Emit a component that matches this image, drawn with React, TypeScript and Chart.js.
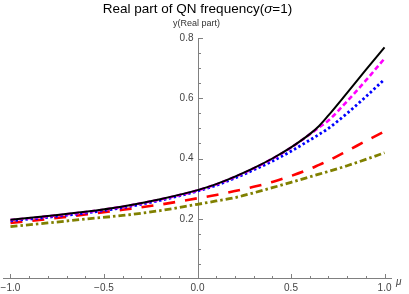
import React, { useEffect, useRef } from "react";
import { Chart, registerables } from "chart.js";
Chart.register(...registerables);

const mu = [-1.0, -0.8, -0.6, -0.4, -0.2, 0.0, 0.1, 0.2, 0.3, 0.4, 0.5, 0.6, 0.65, 0.7, 0.8, 0.9, 1.0];
const blackSolid = [0.197, 0.209, 0.223, 0.241, 0.265, 0.295, 0.315, 0.34, 0.368, 0.4, 0.437, 0.481, 0.508, 0.543, 0.618, 0.694, 0.769];
const magentaDashed = [0.196, 0.208, 0.222, 0.24, 0.264, 0.294, 0.314, 0.339, 0.367, 0.399, 0.436, 0.48, 0.503, 0.526, 0.59, 0.659, 0.732];
const blueDotted = [0.193, 0.205, 0.219, 0.237, 0.261, 0.292, 0.311, 0.335, 0.362, 0.391, 0.424, 0.461, 0.48, 0.5, 0.55, 0.605, 0.663];
const redLongDashed = [0.186, 0.199, 0.214, 0.23, 0.247, 0.268, 0.279, 0.292, 0.306, 0.322, 0.342, 0.365, 0.379, 0.393, 0.425, 0.458, 0.49];
const oliveDotDashed = [0.174, 0.186, 0.199, 0.211, 0.227, 0.248, 0.259, 0.27, 0.286, 0.303, 0.321, 0.339, 0.348, 0.357, 0.376, 0.397, 0.419];

const xTickValues = [-1, -0.5, 0, 0.5, 1];
const xTickLabels = ["\u22121.0", "\u22120.5", "0.0", "0.5", "1.0"];
const yTickValues = [0.2, 0.4, 0.6, 0.8];
const yTickLabels = ["0.2", "0.4", "0.6", "0.8"];
const xMinorTicks = [-1.0, -0.9, -0.8, -0.7, -0.6, -0.5, -0.4, -0.3, -0.2, -0.1, 0.1, 0.2, 0.3, 0.4, 0.5, 0.6, 0.7, 0.8, 0.9, 1.0];
const yMinorTicks = [0.05, 0.1, 0.15, 0.2, 0.25, 0.3, 0.35, 0.4, 0.45, 0.5, 0.55, 0.6, 0.65, 0.7, 0.75, 0.8];

const titleParts = ["Real part of QN frequency(", "\u03c3", "=1)"];
const yAxisTitle = "y(Real part)";
const xAxisTitle = "\u03bc";

const FONT = '"Liberation Sans", Arial, sans-serif';

const toPoints = (ys: number[]) => mu.map((m, i) => ({ x: m, y: ys[i] }));

const axesPlugin = {
  id: "mmaAxes",
  beforeDatasetsDraw(chart: any) {
    const { ctx, chartArea, scales } = chart;
    const x = scales.x;
    const y = scales.y;
    const x0 = Math.round(x.getPixelForValue(0)) + 0.5;
    const y0 = Math.round(y.getPixelForValue(0)) - 0.5;
    ctx.save();
    ctx.strokeStyle = "#808080";
    ctx.lineWidth = 1;
    ctx.beginPath();
    ctx.moveTo(chartArea.left, y0);
    ctx.lineTo(chartArea.right, y0);
    ctx.moveTo(x0, chartArea.top);
    ctx.lineTo(x0, chartArea.bottom);
    xMinorTicks.forEach((v) => {
      const px = Math.round(x.getPixelForValue(v)) + 0.5;
      const major = xTickValues.some((t) => Math.abs(t - v) < 1e-9);
      ctx.moveTo(px, y0);
      ctx.lineTo(px, y0 - (major ? 4.5 : 2.5));
    });
    yMinorTicks.forEach((v) => {
      const py = Math.round(y.getPixelForValue(v)) + 0.5;
      const major = yTickValues.some((t) => Math.abs(t - v) < 1e-9);
      ctx.moveTo(x0, py);
      ctx.lineTo(x0 + (major ? 4.5 : 2.5), py);
    });
    ctx.stroke();

    ctx.fillStyle = "#444";
    ctx.font = "10px " + FONT;
    ctx.textAlign = "center";
    ctx.textBaseline = "top";
    xTickValues.forEach((v, i) => {
      ctx.fillText(xTickLabels[i], x.getPixelForValue(v), y0 + 5);
    });
    ctx.textAlign = "right";
    ctx.textBaseline = "middle";
    yTickValues.forEach((v, i) => {
      ctx.fillText(yTickLabels[i], x0 - 5, y.getPixelForValue(v));
    });

    ctx.font = "italic 10px " + FONT;
    ctx.textAlign = "left";
    ctx.textBaseline = "middle";
    ctx.fillText(xAxisTitle, chartArea.right + 4, y0 + 4);

    ctx.fillStyle = "#333";
    ctx.font = "9px " + FONT;
    ctx.textAlign = "center";
    ctx.textBaseline = "alphabetic";
    ctx.fillText(yAxisTitle, x0 - 2, 26);

    // title
    ctx.fillStyle = "#000";
    const normal = "13.5px " + FONT;
    const italic = "italic 13.5px " + FONT;
    const fonts = [normal, italic, normal];
    let total = 0;
    const widths = titleParts.map((t, i) => {
      ctx.font = fonts[i];
      const w = ctx.measureText(t).width;
      total += w;
      return w;
    });
    let cx = x0 - 1 - total / 2;
    ctx.textAlign = "left";
    titleParts.forEach((t, i) => {
      ctx.font = fonts[i];
      ctx.fillText(t, cx, 13);
      cx += widths[i];
    });
    ctx.restore();
  },
};

export default function App() {
  const ref = useRef<HTMLCanvasElement | null>(null);
  useEffect(() => {
    if (!ref.current) return;
    const chart = new Chart(ref.current, {
      type: "line",
      data: {
        datasets: [
          {
            data: toPoints(blackSolid),
            borderColor: "#000000",
            borderWidth: 2,
            pointRadius: 0,
            cubicInterpolationMode: "monotone",
          },
          {
            data: toPoints(magentaDashed),
            borderColor: "#ff00ff",
            borderWidth: 2.6,
            borderDash: [5, 3],
            pointRadius: 0,
            cubicInterpolationMode: "monotone",
          },
          {
            data: toPoints(blueDotted),
            borderColor: "#0000ff",
            borderWidth: 2.8,
            borderDash: [2.5, 2.5],
            pointRadius: 0,
            cubicInterpolationMode: "monotone",
          },
          {
            data: toPoints(redLongDashed),
            borderColor: "#ff0000",
            borderWidth: 2.6,
            borderDash: [12, 10],
            pointRadius: 0,
            cubicInterpolationMode: "monotone",
          },
          {
            data: toPoints(oliveDotDashed),
            borderColor: "#808000",
            borderWidth: 2.8,
            borderDash: [7, 3, 2.5, 3],
            pointRadius: 0,
            cubicInterpolationMode: "monotone",
          },
        ],
      },
      options: {
        animation: false,
        responsive: false,
        devicePixelRatio: 1,
        layout: { padding: { left: 3, right: 17, top: 38, bottom: 15 } },
        plugins: { legend: { display: false }, tooltip: { enabled: false }, title: { display: false } },
        scales: {
          x: {
            type: "linear",
            min: -1.04,
            max: 1.04,
            display: false,
          },
          y: {
            type: "linear",
            min: 0,
            max: 0.8,
            display: false,
          },
        },
      },
      plugins: [axesPlugin],
    } as any);
    return () => chart.destroy();
  }, []);
  return (
    <div style={{ position: "fixed", left: 0, top: 0, width: 409, height: 294, background: "#fff" }}>
      <canvas ref={ref} width={409} height={294} />
    </div>
  );
}
